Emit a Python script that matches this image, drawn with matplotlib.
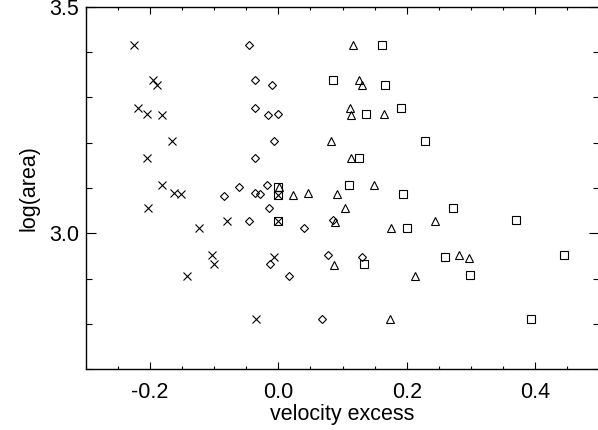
import matplotlib
matplotlib.use('Agg')
import matplotlib.pyplot as plt
from matplotlib.ticker import MultipleLocator, FixedLocator

plt.rcParams['font.family'] = ['Liberation Sans', 'DejaVu Sans']

# velocity excess / log(area) for the four estimates
cross_x = [-0.224, -0.195, -0.189, -0.219, -0.204, -0.181, -0.165, -0.204, -0.181, -0.163, -0.151,
           -0.203, -0.123, -0.080, -0.103, -0.0995, -0.142, -0.035, 0.0, 0.0, -0.006]
cross_y = [3.415, 3.338, 3.327, 3.277, 3.263, 3.260, 3.204, 3.167, 3.106, 3.088, 3.087,
           3.055, 3.012, 3.028, 2.952, 2.932, 2.906, 2.812, 3.085, 3.028, 2.948]

diam_x = [-0.045, -0.036, -0.010, -0.036, -0.0165, -0.001, -0.006, -0.036, -0.0176, -0.0616, -0.085,
          -0.037, -0.028, -0.015, -0.045, 0.0405, -0.013, 0.017, 0.068, 0.0846, 0.078, 0.131]
diam_y = [3.415, 3.338, 3.327, 3.277, 3.260, 3.263, 3.204, 3.167, 3.106, 3.102, 3.083,
          3.090, 3.087, 3.055, 3.028, 3.012, 2.932, 2.906, 2.812, 3.029, 2.952, 2.948]

tri_x = [0.1157, 0.126, 0.130, 0.112, 0.113, 0.165, 0.0824, 0.114, 0.149, 0.001, 0.023,
         0.047, 0.091, 0.104, 0.0886, 0.175, 0.244, 0.087, 0.213, 0.174, 0.2815, 0.297]
tri_y = [3.415, 3.338, 3.327, 3.277, 3.260, 3.263, 3.204, 3.167, 3.106, 3.103, 3.085,
         3.088, 3.087, 3.055, 3.026, 3.011, 3.028, 2.930, 2.906, 2.811, 2.952, 2.946]

sq_x = [0.161, 0.0856, 0.1665, 0.1364, 0.191, 0.2286, 0.126, 0.0, 0.1095, 0.0, 0.0,
        0.195, 0.200, 0.134, 0.272, 0.371, 0.259, 0.2986, 0.445, 0.3935]
sq_y = [3.415, 3.339, 3.327, 3.263, 3.277, 3.204, 3.167, 3.102, 3.106, 3.085, 3.028,
        3.087, 3.012, 2.932, 3.055, 3.029, 2.948, 2.908, 2.952, 2.812]

fig = plt.figure(figsize=(5.98, 4.30), dpi=100)
ax = fig.add_axes([0.1433, 0.1412, 0.8589, 0.8432])

mk = dict(linestyle='none', color='black', markerfacecolor='none', markeredgewidth=0.8)
ax.plot(cross_x, cross_y, marker='x', markersize=5.8, **mk)
ax.plot(diam_x, diam_y, marker='D', markersize=4.0, **mk)
ax.plot(tri_x, tri_y, marker='^', markersize=6.0, **mk)
ax.plot(sq_x, sq_y, marker='s', markersize=5.4, **mk)

ax.set_xlim(-0.3, 0.5)
ax.set_ylim(2.7, 3.5)
ax.xaxis.set_major_locator(FixedLocator([-0.2, 0.0, 0.2, 0.4]))
ax.xaxis.set_minor_locator(MultipleLocator(0.05))
ax.yaxis.set_major_locator(FixedLocator([3.0, 3.5]))
ax.yaxis.set_minor_locator(MultipleLocator(0.1))
ax.set_xticklabels(['-0.2', '0.0', '0.2', '0.4'])
ax.set_yticklabels(['3.0', '3.5'])

ax.tick_params(which='both', direction='in', top=True, right=True, width=0.8,
               labelsize=15.5, colors='black')
ax.tick_params(axis='x', which='major', length=5, pad=9)
ax.tick_params(axis='x', which='minor', length=2.5)
ax.tick_params(axis='y', which='major', length=7, pad=5)
ax.tick_params(axis='y', which='minor', length=4.3)
for s in ax.spines.values():
    s.set_linewidth(1.0)

ax.set_xlabel('velocity excess', fontsize=15.5, labelpad=1)
ax.set_ylabel('log(area)', fontsize=15.5, labelpad=7)

fig.savefig('out.png', dpi=100)
